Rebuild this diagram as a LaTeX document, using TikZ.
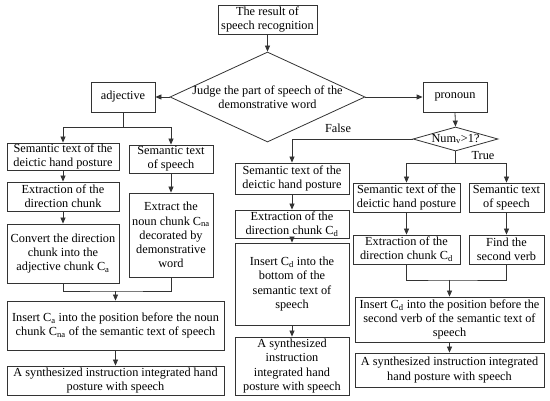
\documentclass[tikz,border=0pt]{standalone}
\usepackage{fontspec}
\setmainfont{Liberation Serif}
\usetikzlibrary{arrows.meta,shapes.geometric}
\begin{document}
\begin{tikzpicture}[x=1pt,y=-1pt,
  every node/.style={font=\fontsize{12.3}{14.2}\selectfont, text=black},
  box/.style={draw=black!80, line width=0.8pt, align=center, inner sep=0pt},
  dia/.style={draw=black!80, line width=0.8pt, diamond, inner sep=0pt},
  line/.style={draw=black!80, line width=0.8pt},
  arr/.style={line, -{Triangle[length=6pt,width=5pt]}},
  lbl/.style={inner sep=0pt}]
\useasboundingbox (0,0) rectangle (550,401);
\fill[white] (0,0) rectangle (550,401);
% top
\node[box, minimum width=99, minimum height=29] (top) at (267.5,19.5) {The result of\\speech recognition};
\node[dia, minimum width=195, minimum height=90] (d1) at (267.5,97) {};
\node[lbl, align=center] (d1t) at (267.5,97) {Judge the part of speech of the\\demonstrative word};
\node[box, minimum width=64, minimum height=30] (adj) at (123,97) {adjective};
\node[box, minimum width=64, minimum height=30] (pron) at (455,97) {pronoun};
% left column
\node[box, minimum width=112, minimum height=27] (l1) at (63,156.5) {Semantic text of the\\deictic hand posture};
\node[box, minimum width=84, minimum height=28] (l2) at (171,159) {Semantic text\\of speech};
\node[box, minimum width=112, minimum height=29] (l3) at (63,196.5) {Extraction of the\\direction chunk};
\node[box, minimum width=84, minimum height=84] (l4) at (171,235) {Extract the\\noun chunk C\textsubscript{na}\\decorated by\\demonstrative\\word};
\node[box, minimum width=112, minimum height=59] (l5) at (63,253.5) {Convert the direction\\chunk into the\\adjective chunk C\textsubscript{a}};
\node[box, minimum width=217, minimum height=49] (l6) at (115.5,325.5) {Insert C\textsubscript{a} into the position before the noun\\chunk C\textsubscript{na} of the semantic text of speech};
\node[box, minimum width=217, minimum height=29] (l7) at (115.5,380.5) {A synthesized instruction integrated hand\\posture with speech};
% middle column
\node[dia, minimum width=85, minimum height=24] (d2) at (455.5,139) {};
\node[lbl] (d2t) at (455.5,139) {Num\textsubscript{v}>1?};
\node[box, minimum width=114, minimum height=31] (m1) at (292,178.5) {Semantic text of the\\deictic hand posture};
\node[box, minimum width=114, minimum height=28] (m2) at (292,224) {Extraction of the\\direction chunk C\textsubscript{d}};
\node[box, minimum width=114, minimum height=82] (m3) at (292,284) {Insert C\textsubscript{d} into the\\bottom of the\\semantic text of\\speech};
\node[box, minimum width=114, minimum height=58] (m4) at (292,366) {A synthesized\\instruction\\integrated hand\\posture with speech};
% right column
\node[box, minimum width=107, minimum height=29] (r1) at (406.5,197.5) {Semantic text of the\\deictic hand posture};
\node[box, minimum width=75, minimum height=29] (r2) at (506.5,197.5) {Semantic text\\of speech};
\node[box, minimum width=107, minimum height=29] (r3) at (406.5,249.5) {Extraction of the\\direction chunk C\textsubscript{d}};
\node[box, minimum width=75, minimum height=29] (r4) at (506.5,249.5) {Find the\\second verb};
\node[box, minimum width=189, minimum height=45] (r5) at (449.5,319.5) {Insert C\textsubscript{d} into the position before the\\second verb of the semantic text of\\speech};
\node[box, minimum width=189, minimum height=34] (r6) at (449.5,370) {A synthesized instruction integrated\\hand posture with speech};
% labels
\node[lbl] (fl) at (338,128) {False};
\node[lbl] (tl) at (483,156) {True};
% connectors
\draw[arr] (top.south) -- (d1.north);
\draw[arr] (d1.west) -- (adj.east);
\draw[arr] (d1.east) -- (pron.west);
\coordinate (ja) at (123,127);
\draw[line] (adj.south) -- (ja);
\draw[arr] (ja) -| (l1.north);
\draw[arr] (ja) -| (l2.north);
\draw[arr] (l1.south) -- (l3.north);
\draw[arr] (l3.south) -- (l5.north);
\draw[arr] (l2.south) -- (l4.north);
\coordinate (jl) at (115.5,291);
\draw[line] (l5.south) |- (jl) -| (l4.south);
\draw[arr] (jl) -- (l6.north);
\draw[arr] (l6.south) -- (l7.north);
\draw[arr] (pron.south) -- (d2.north);
\draw[arr] (d2.west) -| (m1.north);
\draw[arr] (m1.south) -- (m2.north);
\draw[arr] (m2.south) -- (m3.north);
\draw[arr] (m3.south) -- (m4.north);
\coordinate (jr) at (455.5,163);
\draw[line] (d2.south) -- (jr);
\draw[arr] (jr) -| (r1.north);
\draw[arr] (jr) -| (r2.north);
\draw[arr] (r1.south) -- (r3.north);
\draw[arr] (r2.south) -- (r4.north);
\coordinate (jr2) at (449.5,280);
\draw[line] (r3.south) |- (jr2) -| (r4.south);
\draw[arr] (jr2) -- (r5.north);
\draw[arr] (r5.south) -- (r6.north);
\end{tikzpicture}
\end{document}
